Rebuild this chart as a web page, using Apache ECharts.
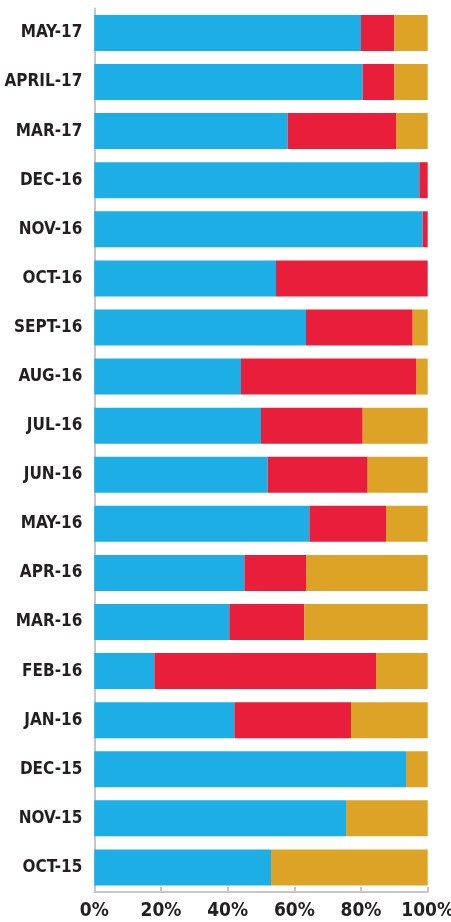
<!DOCTYPE html>
<html>
<head>
<meta charset="utf-8">
<script src="https://cdn.jsdelivr.net/npm/echarts@6/dist/echarts.min.js"></script>
<style>
html,body{margin:0;padding:0;background:#fff;}
#chart{width:451px;height:922px;}
</style>
</head>
<body>
<div id="chart"></div>
<script>
const categories = ['MAY-17','APRIL-17','MAR-17','DEC-16','NOV-16','OCT-16','SEPT-16','AUG-16','JUL-16','JUN-16','MAY-16','APR-16','MAR-16','FEB-16','JAN-16','DEC-15','NOV-15','OCT-15'];
const blueValues = [80, 80.5, 58, 97.5, 98.5, 54.5, 63.5, 44, 50, 52, 64.5, 45, 40.5, 18, 42, 93.5, 75.5, 53];
const redValues  = [10, 9.5, 32.5, 2.5, 1.5, 45.5, 32, 52.5, 30.5, 30, 23, 18.5, 22.5, 66.5, 35, 0, 0, 0];
const goldValues = [10, 10, 9.5, 0, 0, 0, 4.5, 3.5, 19.5, 18, 12.5, 36.5, 37, 15.5, 23, 6.5, 24.5, 47];
const xTicks = [0, 20, 40, 60, 80, 100];

const FONT = '"DejaVu Sans Condensed", sans-serif';
const chart = echarts.init(document.getElementById('chart'));
function mk(name, data, color){
  return {name, type:'bar', stack:'total', data, barWidth:36, itemStyle:{color}, emphasis:{disabled:true}, animation:false};
}
chart.setOption({
  animation:false,
  grid:{left:94.3, right:23.3, top:8.4, bottom:30, containLabel:false, outerBoundsMode:'none'},
  xAxis:{
    type:'value', min:xTicks[0], max:xTicks[xTicks.length-1], interval:20,
    axisLine:{show:true, lineStyle:{color:'#c6c6c6', width:2}},
    axisTick:{show:true, inside:true, length:5, lineStyle:{color:'#c6c6c6', width:2}},
    splitLine:{show:false},
    axisLabel:{formatter:'{value}%', color:'#231f20', fontFamily:FONT, fontWeight:'bold', fontSize:19, margin:10, hideOverlap:false}
  },
  yAxis:{
    type:'category', data:categories, inverse:true,
    axisLine:{show:true, lineStyle:{color:'#c6c6c6', width:2}},
    axisTick:{show:false},
    axisLabel:{color:'#231f20', fontFamily:FONT, fontWeight:'bold', fontSize:17, margin:12}
  },
  series:[mk('Blue', blueValues, '#1caee4'), mk('Red', redValues, '#e81e3a'), mk('Gold', goldValues, '#dca327')]
});
</script>
</body>
</html>
